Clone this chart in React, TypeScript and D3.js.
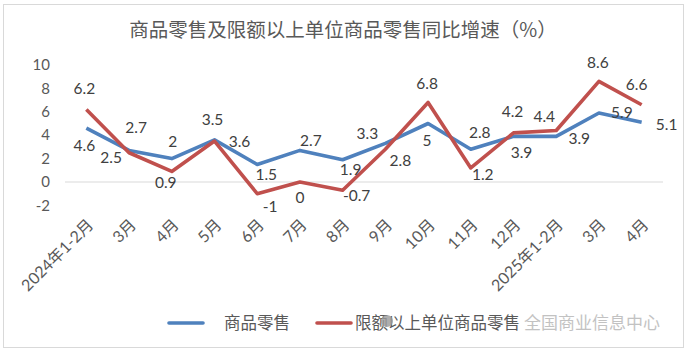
import React from "react"
import * as d3 from "d3"

const categories = [
  "2024年1-2月", "3月", "4月", "5月", "6月", "7月", "8月", "9月",
  "10月", "11月", "12月", "2025年1-2月", "3月", "4月",
]
const retail = [4.6, 2.7, 2, 3.6, 1.5, 2.7, 1.9, 3.3, 5, 2.8, 3.9, 3.9, 5.9, 5.1]
const aboveQuota = [6.2, 2.5, 0.9, 3.5, -1, 0, -0.7, 2.8, 6.8, 1.2, 4.2, 4.4, 8.6, 6.6]
const yTicks = [-2, 0, 2, 4, 6, 8, 10]

// label offsets (dx, dy) from each point, copying Excel's auto placement
const retailLabelOffset = [
  [-2, 17], [7, -23], [1, -17], [25, 2], [9, 10], [11, -10], [8, 10],
  [-18, -10], [-1, 17], [9, -17], [8, 16], [23, 2], [23, 0], [25, 2],
]
const quotaLabelOffset = [
  [-2, -21], [-18, 5], [-6, 11], [-2, -21], [13, 13], [0, 16], [14, 5],
  [15, 11], [-1, -19], [12, 7], [-1, -21], [-12, -14], [-1, -19], [-5, -20],
]

const W = 688
const H = 352
const BLUE = "#4f81bd"
const RED = "#c0504d"
const FONT = "Lato, 'Noto Sans CJK SC', sans-serif"
const CJK = "'Noto Sans CJK SC', sans-serif"

export default function App() {
  const x = d3.scalePoint<number>()
    .domain(d3.range(categories.length))
    .range([65, 663])
    .padding(0.5)
  const y = d3.scaleLinear().domain([-2, 10]).range([205.4, 65])

  const line = d3.line<number>()
    .x((_, i) => x(i) as number)
    .y(d => y(d))

  const series = [
    { name: "商品零售", values: retail, color: BLUE, offs: retailLabelOffset },
    { name: "限额以上单位商品零售", values: aboveQuota, color: RED, offs: quotaLabelOffset },
  ]

  return (
    <svg width={W} height={H} style={{ position: "absolute", left: 0, top: 0, background: "#fff" }}
      fontFamily={FONT}>
      <rect x={3.5} y={4.5} width={680} height={343} fill="#fff" stroke="#d9d9d9" />
      <text x={343} y={37} textAnchor="middle" fontSize={19.5} fill="#595959" fontFamily={CJK}>
        商品零售及限额以上单位商品零售同比增速（%）
      </text>

      {yTicks.map(t => (
        <text key={t} x={50} y={y(t)} dy="0.35em" textAnchor="end" fontSize={15} fill="#595959">
          {t}
        </text>
      ))}
      <line x1={65} x2={663} y1={y(0)} y2={y(0)} stroke="#d9d9d9" strokeWidth={1} />

      {categories.map((c, i) => (
        <text key={i} transform={`translate(${(x(i) as number) + 4},${222}) rotate(-45)`}
          textAnchor="end" dy="0.35em" fontSize={16} fill="#595959">
          {c}
        </text>
      ))}

      {series.map(s => (
        <path key={s.name} d={line(s.values) || ""} fill="none" stroke={s.color}
          strokeWidth={3.6} strokeLinejoin="round" />
      ))}

      {series.map(s => s.values.map((v, i) => (
        <text key={s.name + i} x={(x(i) as number) + s.offs[i][0]} y={y(v) + s.offs[i][1]}
          dy="0.35em" textAnchor="middle" fontSize={15.5} fill="#404040">
          {v}
        </text>
      )))}

      <line x1={169} x2={203} y1={323} y2={323} stroke={BLUE} strokeWidth={3.6} strokeLinecap="round" />
      <text x={224} y={323} dy="0.35em" fontSize={16.5} fill="#595959" fontFamily={CJK}>商品零售</text>
      <line x1={317} x2={351} y1={323} y2={323} stroke={RED} strokeWidth={3.6} strokeLinecap="round" />
      <text x={355} y={323} dy="0.35em" fontSize={16.5} fill="#595959" fontFamily={CJK}>
        限额以上单位商品零售
      </text>

      {/* watermark */}
      <g opacity={0.8}>
        <circle cx={387} cy={321} r={6} fill="#9a9a9a" />
        <text x={660} y={323} dy="0.35em" textAnchor="end" fontSize={17} fill="#b4b4b4"
          fontFamily={CJK}>全国商业信息中心</text>
      </g>
    </svg>
  )
}
